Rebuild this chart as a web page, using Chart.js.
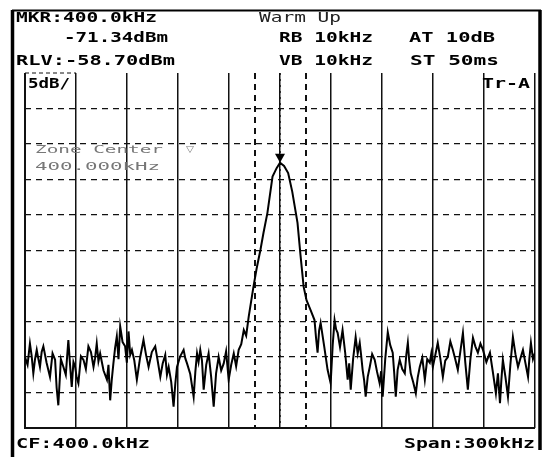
<!DOCTYPE html>
<html>
<head>
<meta charset="utf-8">
<script src="https://cdn.jsdelivr.net/npm/chart.js@4/dist/chart.umd.min.js"></script>
<style>
html,body{margin:0;padding:0;background:#fff;}
#wrap{width:544px;height:457px;position:relative;}
</style>
</head>
<body>
<div id="wrap"><canvas id="c" width="544" height="457"></canvas></div>
<script>
// ---- trace data (kHz, dBm) ----
const leftF = [250,251.5,252.9,253.9,254.9,255.9,256.9,257.8,258.8,259.8,260.8,262.7,264.7,266.2,267.7,268.6,269.6,271.1,272.6,274.0,275.5,276.5,277.5,278.5,279.5,280.4,281.4,282.9,284.4,285.8,287.3,288.8,290.3,291.2,292.2,293.2,294.2,296.2,298.2,299.1,300.1,301.0,302.0,303.0,304.0,305.0,306.0,307.4,308.9,309.9,310.9,311.9,312.9,314.3,315.8,317.7,319.7,321.2,322.7,324.6,326.6,328.1,329.6,331.0,332.5,333.5,334.5,336.0,337.4,338.4,339.4,341.3,343.3,344.3,345.3,347.2,349.2,350.2,351.2,352.1,353.1,354.1,355.1,356.6,358.0,359.5,361.0,362.4,363.9,365.4,366.9,368.3,369.8,371.3,372.8,374.2,375.7,377.2,378.7,380.1,381.6];
const leftL = [-98.7,-99.8,-96.8,-98.5,-101.0,-99.0,-97.7,-98.9,-100.1,-98.0,-97.2,-99.5,-101.5,-98.2,-99.1,-103.0,-105.5,-99.0,-100.1,-101.2,-96.3,-99.8,-102.9,-99.4,-100.1,-101.6,-102.4,-98.6,-99.1,-100.4,-97.2,-98.0,-100.1,-98.9,-96.8,-99.3,-98.2,-100.6,-101.9,-99.8,-104.8,-102.0,-99.6,-97.4,-95.8,-99.0,-94.4,-96.6,-97.2,-99.5,-95.1,-98.4,-97.7,-99.2,-101.9,-98.8,-96.3,-98.4,-100.1,-98.0,-97.2,-99.3,-101.5,-99.6,-98.4,-101.2,-100.1,-102.2,-105.7,-102.5,-100.1,-98.6,-97.7,-98.9,-99.6,-101.1,-104.3,-100.8,-98.2,-99.4,-97.7,-99.2,-103.3,-99.8,-98.2,-101.5,-105.7,-101.0,-98.7,-100.6,-99.6,-97.9,-101.9,-99.8,-98.2,-100.0,-97.7,-96.9,-94.9,-95.7,-93.0];
const peakF = [384.4,386.2,388.5,390.3,392.6,395.6,398.0,400.0,402.4,404.8,407.2,410.3,412.0,413.9,415.6,418.0];
const peakL = [-88.8,-86.3,-83.6,-81.2,-78.4,-73.3,-72.1,-71.34,-71.8,-72.8,-75.4,-79.8,-84.2,-88.8,-90.7,-92.1];
const rightF = [420.3,421.2,422.1,423.0,423.9,426.0,428.0,429.8,431.0,432.1,433.0,433.9,435.3,436.8,438.3,439.8,440.7,441.6,443.0,444.5,445.7,446.9,447.7,448.6,449.5,450.4,451.6,452.8,454.2,455.7,457.1,458.6,459.5,460.4,461.9,463.4,464.8,466.3,467.2,468.1,469.2,470.4,471.9,473.4,474.3,475.2,476.0,476.9,478.4,479.9,481.0,482.2,483.7,485.2,486.6,488.1,489.0,489.9,491.3,492.8,494.3,495.8,497.2,498.7,500.2,501.7,503.1,504.6,506.1,507.6,509.0,510.5,512.0,513.5,514.9,516.4,517.9,519.4,521.4,523.5,525.2,527.0,528.2,529.4,530.2,531.1,532.6,534.1,535.5,537.0,538.5,540.0,541.4,542.9,544.4,545.9,546.7,547.6,548.8,550];
const rightL = [-93.5,-96.0,-98.1,-95.0,-93.9,-97.2,-100.5,-102.4,-97.0,-93.5,-94.8,-95.3,-97.3,-94.9,-98.0,-101.9,-99.6,-103.3,-99.0,-95.9,-98.2,-96.7,-98.4,-100.5,-102.0,-104.3,-101.5,-100.1,-98.3,-99.1,-100.8,-102.4,-100.7,-104.3,-99.0,-95.2,-97.0,-98.1,-101.0,-104.3,-100.5,-99.1,-100.4,-101.0,-98.4,-96.7,-99.2,-101.0,-102.3,-103.8,-101.6,-100.1,-98.8,-101.9,-99.0,-99.5,-98.2,-100.1,-98.5,-96.7,-98.9,-101.5,-99.2,-98.7,-96.5,-97.7,-99.0,-100.5,-97.9,-95.3,-99.5,-103.3,-99.0,-96.0,-97.2,-98.1,-96.8,-97.7,-99.4,-98.1,-100.8,-103.8,-101.0,-105.2,-102.0,-99.1,-101.5,-104.3,-99.8,-95.9,-98.3,-100.1,-98.9,-97.7,-99.6,-101.5,-98.9,-96.7,-99.0,-98.1];

const centerFreq = 400;      // kHz
const spanKHz = 300;         // kHz
const refLevel = -58.7;      // dBm
const dbPerDiv = 5;
const divisions = 10;
const zoneEdges = [385, 415]; // kHz
const markerFreq = 400;
const markerLevel = -71.34;
const headerTexts = [
  ["MKR:400.0kHz", 16, 22, 141, true],
  ["Warm Up", 259, 22, 82, false],
  ["-71.34dBm", 64, 42, 104, true],
  ["RB 10kHz", 279, 42, 94, true],
  ["AT 10dB", 409, 42, 86, true],
  ["RLV:-58.70dBm", 16, 65, 159, true],
  ["VB 10kHz", 279, 65, 94, true],
  ["ST 50ms", 410, 65, 89, true],
  ["5dB/", 28, 88, 42, true],
  ["Tr-A", 482, 88, 48, true],
  ["CF:400.0kHz", 16, 448, 134, true],
  ["Span:300kHz", 404, 448, 131, true]
];
const zoneTexts = [
  ["Zone Center", 35, 153, 128],
  ["400.000kHz", 35, 170, 125]
];

const freqs = leftF.concat(peakF, rightF);
const levels = leftL.concat(peakL, rightL);
const fMin = centerFreq - spanKHz/2, fMax = centerFreq + spanKHz/2;
const yMax = refLevel, yMin = refLevel - dbPerDiv*divisions;

function fitText(ctx, s, x, y, w, font, color){
  ctx.save();
  ctx.font = font;
  ctx.fillStyle = color;
  ctx.textBaseline = 'alphabetic';
  ctx.textAlign = 'left';
  const mw = ctx.measureText(s).width;
  ctx.translate(x, y);
  ctx.scale(w/mw, 1);
  ctx.fillText(s, 0, 0);
  ctx.restore();
}

const deco = {
  id: 'deco',
  beforeDatasetsDraw(chart){
    const {ctx, chartArea:a, scales:{x, y}} = chart;
    ctx.save();
    zoneTexts.forEach(t => fitText(ctx, t[0], t[1], t[2], t[3], "11px 'DejaVu Sans Mono'", '#777'));
    fitText(ctx, '\u25BD', 186, 152, 8, "9px 'DejaVu Sans'", '#777');
    ctx.strokeStyle = '#111';
    ctx.lineWidth = 2;
    ctx.setLineDash([6,5]);
    zoneEdges.forEach(f => {
      const px = Math.round(x.getPixelForValue(f));
      ctx.beginPath(); ctx.moveTo(px, a.top); ctx.lineTo(px, a.bottom); ctx.stroke();
    });
    ctx.lineWidth = 1.5;
    ctx.setLineDash([2,4]);
    const cx = Math.round(x.getPixelForValue(centerFreq));
    ctx.beginPath(); ctx.moveTo(cx, a.top); ctx.lineTo(cx, a.bottom); ctx.stroke();
    ctx.setLineDash([4,3]);
    ctx.lineWidth = 1;
    ctx.beginPath(); ctx.moveTo(a.left, a.top); ctx.lineTo(x.getPixelForValue(fMin+spanKHz/10), a.top); ctx.stroke();
    ctx.setLineDash([]);
    ctx.lineWidth = 2;
    ctx.beginPath(); ctx.moveTo(a.left, a.top); ctx.lineTo(a.left, a.bottom); ctx.lineTo(a.right, a.bottom); ctx.stroke();
    ctx.restore();
  },
  afterDraw(chart){
    const {ctx, scales:{x, y}} = chart;
    ctx.save();
    ctx.strokeStyle = '#000';
    ctx.lineWidth = 2;
    ctx.beginPath(); ctx.moveTo(12, 10.5); ctx.lineTo(541, 10.5); ctx.stroke();
    ctx.lineWidth = 3.5;
    ctx.beginPath(); ctx.moveTo(12.5, 10); ctx.lineTo(12.5, 457); ctx.stroke();
    ctx.beginPath(); ctx.moveTo(540, 10); ctx.lineTo(540, 450); ctx.stroke();
    headerTexts.forEach(t => fitText(ctx, t[0], t[1], t[2], t[3],
      (t[4] ? "bold " : "") + "14px 'DejaVu Sans Mono'", t[4] ? '#000' : '#222'));
    const mx = x.getPixelForValue(markerFreq), my = y.getPixelForValue(markerLevel);
    ctx.fillStyle = '#000';
    ctx.beginPath(); ctx.moveTo(mx, my); ctx.lineTo(mx-5, my-9); ctx.lineTo(mx+5, my-9); ctx.closePath(); ctx.fill();
    ctx.restore();
  }
};

new Chart(document.getElementById('c'), {
  type: 'line',
  data: {
    datasets: [{
      data: freqs.map((f, i) => ({x: f, y: levels[i]})),
      borderColor: '#000',
      borderWidth: 2,
      pointRadius: 0,
      tension: 0,
      fill: false
    }]
  },
  options: {
    responsive: false,
    animation: false,
    devicePixelRatio: 1,
    layout: {padding: {left: 25, right: 9, top: 73, bottom: 29}},
    plugins: {legend: {display: false}, tooltip: {enabled: false}, title: {display: false}},
    scales: {
      x: {
        type: 'linear', min: fMin, max: fMax,
        ticks: {display: false, stepSize: spanKHz/divisions},
        grid: {color: '#111', lineWidth: 1.5, drawTicks: false},
        border: {display: false}
      },
      y: {
        type: 'linear', min: yMin, max: yMax,
        ticks: {display: false, stepSize: dbPerDiv},
        grid: {color: c => (c.tick && Math.abs(c.tick.value - yMax) < 0.01) ? 'rgba(0,0,0,0)' : '#111', lineWidth: 1.3, drawTicks: false},
        border: {display: false, dash: [6,5]}
      }
    }
  },
  plugins: [deco]
});
</script>
</body>
</html>
